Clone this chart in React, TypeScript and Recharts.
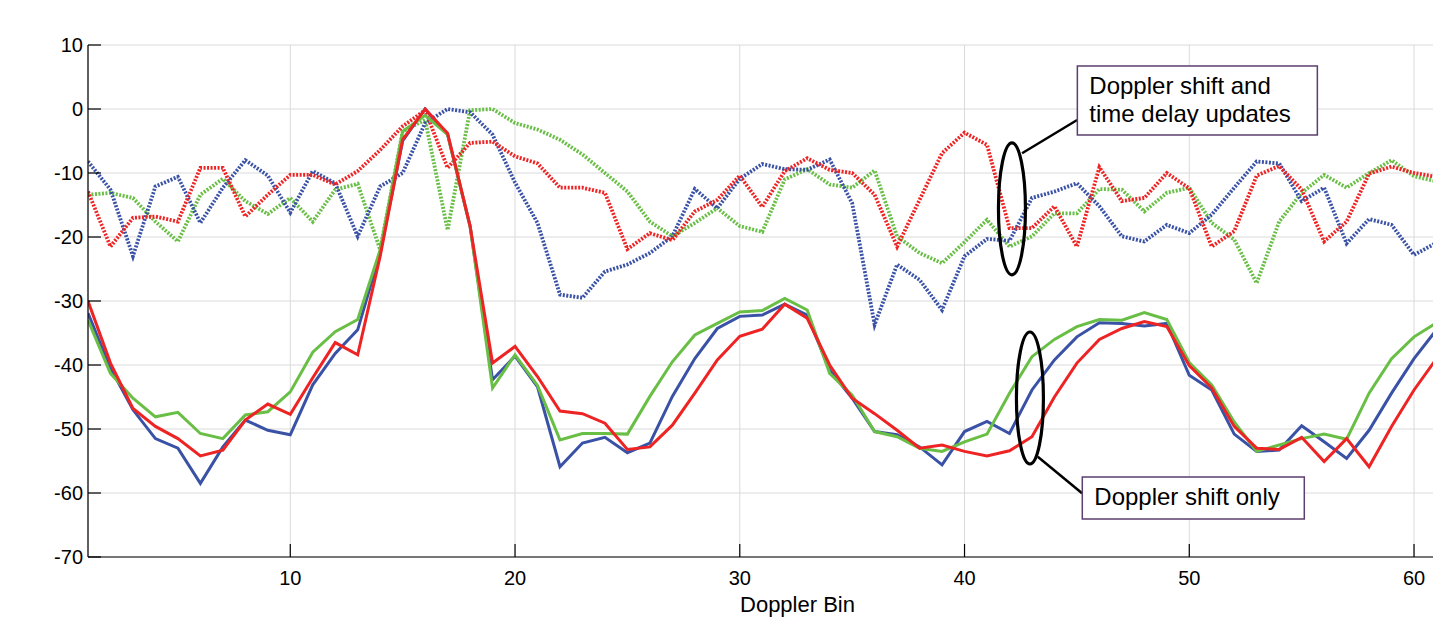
import { LineChart, Line, XAxis, YAxis, CartesianGrid, ReferenceDot, ReferenceLine } from "recharts";

const bins = Array.from({ length: 62 }, (_, i) => i + 1);

const blueDotted = [
  -8.2, -12.6, -23, -12.1, -10.6, -17.8, -12.3, -8, -10.4, -16.2, -9.7, -11.6, -19.9, -12.1, -10, -2.2, 0, -0.5, -4, -11.5,
  -17.8, -29, -29.5, -25.4, -24.3, -22.5, -19.9, -12.5, -15.5, -10.9, -8.6, -9.4, -9.5, -7.9, -14.7, -33.7, -24.3, -26.7, -31.4, -23,
  -20.3, -20.6, -13.9, -12.9, -11.6, -15.2, -19.9, -20.7, -18.1, -19.4, -16.5, -12.3, -8.2, -8.5, -14.4, -12.3, -21, -17.2, -18.1, -22.8,
  -20.9, -18,
];
const redDotted = [
  -12.9, -21.5, -17, -16.8, -17.6, -9.2, -9.2, -16.8, -13.4, -10.3, -10.3, -11.8, -9.7, -6.4, -2.7, -0.2, -9.2, -5.3, -5.1, -7.4,
  -8.5, -12.3, -12.3, -13.1, -21.9, -19.4, -20.5, -16, -14.2, -10.4, -15.3, -9.7, -7.7, -9.5, -10, -13.4, -21.5, -14.2, -6.9, -3.7,
  -5.6, -18.6, -18.6, -15.2, -21.5, -9.1, -14.4, -13.9, -10, -12.4, -21.5, -19.1, -10.4, -8.9, -12.6, -20.7, -17.6, -10.1, -9, -10,
  -10.6, -11,
];
const greenDotted = [
  -13.4, -13.1, -13.9, -17.6, -20.7, -13.4, -10.9, -14.4, -16.4, -13.9, -17.6, -12.6, -11.7, -22, -3.5, -1.7, -18.9, -0.2, 0, -2.2,
  -3.2, -4.8, -7.1, -10, -12.9, -17.6, -19.9, -17.8, -15.5, -18.3, -19.2, -11, -9.4, -11.8, -12.3, -9.6, -19.9, -22.5, -24.1, -20.8,
  -17.3, -21.5, -19.9, -16.3, -16.3, -12.5, -12.6, -16, -13.1, -12.3, -17.8, -20.4, -27.2, -17.6, -13.1, -10.3, -12.3, -10, -8, -10.5,
  -11.3, -11.5,
];
const blueSolid = [
  -31.9, -40.5, -47, -51.5, -53, -58.5, -52.8, -48.6, -50.2, -50.9, -43.1, -38.2, -34.5, -22.5, -5, 0, -4, -18.3, -42.3, -38.6,
  -43.4, -55.9, -52.2, -51.3, -53.7, -52.2, -44.9, -39, -34.3, -32.4, -32.2, -30.5, -32.2, -40.8, -45.2, -50.4, -50.9, -52.8, -55.6, -50.4,
  -48.8, -50.7, -43.9, -39.2, -35.6, -33.4, -33.5, -33.9, -33.5, -41.6, -43.9, -50.8, -53.5, -53.3, -49.5, -52, -54.6, -50.2, -44.4, -39,
  -34.5, -31,
];
const greenSolid = [
  -33, -41.3, -45.2, -48.1, -47.4, -50.7, -51.5, -47.8, -47.3, -44.2, -38, -34.8, -32.9, -22, -3.5, -1, -4, -18.3, -43.6, -38.4,
  -43.2, -51.7, -50.7, -50.7, -50.8, -44.9, -39.5, -35.3, -33.5, -31.7, -31.5, -29.6, -31.4, -41.3, -44.7, -50.4, -51.2, -53, -53.5, -52,
  -50.8, -44.4, -38.7, -36, -34, -32.9, -33, -31.8, -32.9, -39.6, -43.1, -48.9, -53.5, -52.5, -51.5, -50.8, -51.6, -44.4, -39, -35.6,
  -33.4, -32,
];
const redSolid = [
  -30, -39.7, -46.8, -49.6, -51.5, -54.2, -53.3, -48.6, -46.1, -47.7, -42, -36.5, -38.4, -23, -4.8, 0, -3.8, -18.3, -39.7, -37.1,
  -41.8, -47.2, -47.6, -49.1, -53.2, -52.8, -49.4, -44.4, -39.2, -35.5, -34.4, -30.5, -32.7, -40, -45.2, -47.6, -50.2, -53, -52.5, -53.5,
  -54.2, -53.4, -51.2, -45, -39.7, -36, -34.3, -33.2, -34, -40.1, -43.6, -49.6, -53, -53.2, -51.3, -55.1, -51.5, -55.9, -49.6, -43.9,
  -39, -34,
];

const xTicks = [10, 20, 30, 40, 50, 60];
const yTicks = [-70, -60, -50, -40, -30, -20, -10, 0, 10];

const data = bins.map((b, i) => ({
  bin: b,
  bd: blueDotted[i],
  rd: redDotted[i],
  gd: greenDotted[i],
  bs: blueSolid[i],
  gs: greenSolid[i],
  rs: redSolid[i],
}));

const BLUE = "#3a52a6";
const RED = "#ee2424";
const GREEN = "#69be45";
const FONT = "'Liberation Sans', Arial, sans-serif";

const W = 1433;
const H = 611;
const TOP = 37;
const LEFT = 80;
const PLOT_H = 512;
const BOTTOM = TOP + PLOT_H;

function YTick(props: any) {
  const { y, payload } = props;
  return (
    <g>
      <line x1={LEFT} x2={LEFT + 13} y1={y} y2={y} stroke="#000" strokeWidth={1.2} />
      <text x={LEFT - 5} y={y + 7} textAnchor="end" fontSize={20} fontFamily={FONT} fill="#000">
        {payload.value}
      </text>
    </g>
  );
}

function XTick(props: any) {
  const { x, payload } = props;
  return (
    <g>
      <line x1={x} x2={x} y1={BOTTOM} y2={BOTTOM - 13} stroke="#000" strokeWidth={1.2} />
      <text x={x} y={BOTTOM + 28} textAnchor="middle" fontSize={20} fontFamily={FONT} fill="#000">
        {payload.value}
      </text>
    </g>
  );
}

function TopTick(props: any) {
  const { x } = props;
  return <line x1={x} x2={x} y1={TOP} y2={TOP + 13} stroke="#000" strokeWidth={1.2} />;
}

function Ellipse(props: any) {
  return <ellipse cx={props.cx} cy={props.cy} rx={13.5} ry={66} fill="none" stroke="#000" strokeWidth={3.2} />;
}

function Box(lines: string[], w: number, h: number) {
  return (props: any) => (
    <g>
      <rect x={props.cx} y={props.cy} width={w} height={h} fill="#fff" stroke="#5b3f6e" strokeWidth={1.5} />
      {lines.map((t, i) => (
        <text key={i} x={props.cx + 12} y={props.cy + 28 + i * 28} fontSize={24} fontFamily={FONT} fill="#000">
          {t}
        </text>
      ))}
    </g>
  );
}

export default function App() {
  return (
    <LineChart width={W} height={H} data={data} margin={{ top: TOP, right: 0, bottom: 0, left: 0 }}>
      <CartesianGrid stroke="#dadada" strokeWidth={1} />
      <XAxis
        dataKey="bin"
        type="number"
        domain={[1, 61.2]}
        allowDataOverflow
        ticks={xTicks}
        tick={<XTick />}
        tickLine={false}
        axisLine={{ stroke: "#000", strokeWidth: 1.2 }}
        height={H - TOP - PLOT_H}
        label={{ value: "Doppler Bin", position: "insideBottom", dx: 33, offset: 7, fontSize: 22, fontFamily: FONT, fill: "#000" }}
      />
      <XAxis
        xAxisId="top"
        dataKey="bin"
        type="number"
        orientation="top"
        domain={[1, 61.2]}
        allowDataOverflow
        ticks={xTicks}
        tick={<TopTick />}
        tickLine={false}
        axisLine={{ stroke: "#000", strokeWidth: 1.2 }}
        height={0}
      />
      <YAxis
        type="number"
        domain={[-70, 10]}
        ticks={yTicks}
        tick={<YTick />}
        tickLine={false}
        axisLine={{ stroke: "#000", strokeWidth: 1.2 }}
        width={LEFT}
      />
      <Line dataKey="gd" stroke={GREEN} strokeWidth={3.8} strokeDasharray="2 1.5" dot={false} isAnimationActive={false} />
      <Line dataKey="bd" stroke={BLUE} strokeWidth={3.8} strokeDasharray="2 1.5" dot={false} isAnimationActive={false} />
      <Line dataKey="rd" stroke={RED} strokeWidth={3.8} strokeDasharray="2 1.5" dot={false} isAnimationActive={false} />
      <Line dataKey="bs" stroke={BLUE} strokeWidth={3} dot={false} isAnimationActive={false} />
      <Line dataKey="gs" stroke={GREEN} strokeWidth={3} dot={false} isAnimationActive={false} />
      <Line dataKey="rs" stroke={RED} strokeWidth={3} dot={false} isAnimationActive={false} />
      <ReferenceLine segment={[{ x: 42.56, y: -6.92 }, { x: 45.01, y: -1.72 }]} stroke="#000" strokeWidth={2.5} ifOverflow="visible" />
      <ReferenceLine segment={[{ x: 43.26, y: -54.33 }, { x: 45.23, y: -60.05 }]} stroke="#000" strokeWidth={2.5} ifOverflow="visible" />
      <ReferenceDot x={42.11} y={-15.6} r={1} shape={<Ellipse />} ifOverflow="visible" />
      <ReferenceDot x={42.91} y={-45.16} r={1} shape={<Ellipse />} ifOverflow="visible" />
      <ReferenceDot x={45.02} y={6.72} r={1} shape={Box(["Doppler shift and", "time delay updates"], 240, 69)} ifOverflow="visible" />
      <ReferenceDot x={45.24} y={-57.5} r={1} shape={Box(["Doppler shift only"], 222, 42)} ifOverflow="visible" />
    </LineChart>
  );
}
